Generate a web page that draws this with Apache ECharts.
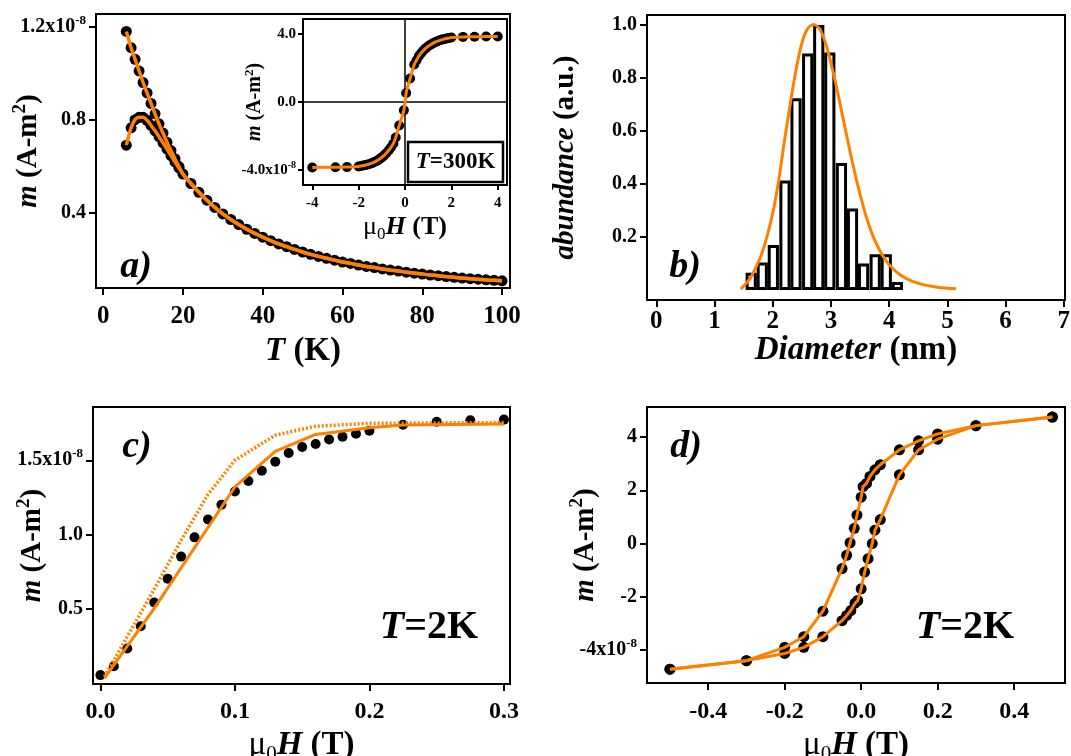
<!DOCTYPE html>
<html><head><meta charset="utf-8">
<script src="https://cdn.jsdelivr.net/npm/echarts@6/dist/echarts.min.js"></script>
<style>html,body{margin:0;padding:0;background:#fff}#chart{width:1071px;height:756px}</style>
</head><body><div id="chart"></div>
<script>
// ---------- Panel a: m(T), ZFC / FC ----------
const aTempLow = [5.8, 7, 8, 9, 10, 11, 12, 13, 14, 15, 16, 17, 18, 19];
const aZfcLow  = [0.69, 0.765, 0.80, 0.81, 0.81, 0.797, 0.775, 0.752, 0.727, 0.70, 0.673, 0.645, 0.618, 0.592];
const aFcLow   = [1.18, 1.11, 1.06, 1.01, 0.96, 0.915, 0.87, 0.825, 0.782, 0.742, 0.703, 0.667, 0.632, 0.598];
const aTempTail = [20,22,24,26,28,30,32,34,36,38,40,42,44,46,48,50,52,54,56,58,60,62,64,66,68,70,72,74,76,78,80,82,84,86,88,90,92,94,96,98,100];
const aTail = [0.566,0.525,0.487,0.453,0.422,0.394,0.370,0.348,0.328,0.310,0.294,0.279,0.265,0.253,0.241,0.230,0.220,0.211,0.203,0.195,0.187,0.181,0.174,0.168,0.163,0.157,0.152,0.148,0.143,0.139,0.135,0.131,0.128,0.124,0.121,0.118,0.115,0.113,0.110,0.108,0.106];
const aXTicks = [0, 20, 40, 60, 80, 100];
const aXLabels = ['0', '20', '40', '60', '80', '100'];
const aYTicks = [0.4, 0.8, 1.2];
const aYLabels = ['0.4', '0.8', '1.2x10^-8'];

// ---------- Inset: m(H) at 300 K ----------
const insH = [-4, -3, -2.5, -2.0, -1.9, -1.8, -1.7, -1.6, -1.5, -1.4, -1.3, -1.2, -1.1, -1.0, -0.9, -0.8, -0.7, -0.6, -0.5, -0.4, -0.25, -0.05, 0.05, 0.22, 0.4, 0.5, 0.6, 0.7, 0.8, 0.9, 1.0, 1.1, 1.2, 1.3, 1.4, 1.5, 1.6, 1.7, 1.8, 1.9, 2.0, 2.5, 3, 3.5, 4];
const insM = [-3.84, -3.83, -3.82, -3.78, -3.76, -3.73, -3.70, -3.66, -3.62, -3.57, -3.51, -3.44, -3.35, -3.25, -3.13, -2.99, -2.83, -2.65, -2.43, -2.08, -1.38, -0.49, 0.53, 1.38, 2.2, 2.45, 2.7, 2.88, 3.03, 3.16, 3.27, 3.36, 3.44, 3.51, 3.57, 3.62, 3.66, 3.70, 3.73, 3.76, 3.78, 3.82, 3.83, 3.84, 3.84];
const insXTicks = [-4, -2, 0, 2, 4];
const insXLabels = ['-4', '-2', '0', '2', '4'];
const insYTicks = [-4, 0, 4];
const insYLabels = ['-4.0x10^-8', '0.0', '4.0'];

// ---------- Panel b: size histogram ----------
const bBinCenter = [1.63, 1.82, 2.01, 2.21, 2.40, 2.60, 2.79, 2.98, 3.18, 3.37, 3.56, 3.76, 3.95, 4.14];
const bAbundance = [0.065, 0.103, 0.169, 0.412, 0.722, 0.891, 0.998, 0.895, 0.478, 0.307, 0.10, 0.134, 0.134, 0.03];
const bFitD = [1.45, 1.6, 1.7, 1.8, 1.9, 2.0, 2.1, 2.2, 2.3, 2.4, 2.5, 2.6, 2.7, 2.8, 2.9, 3.0, 3.1, 3.2, 3.3, 3.4, 3.5, 3.6, 3.7, 3.8, 3.9, 4.0, 4.2, 4.4, 4.6, 4.8, 5.0, 5.15];
const bFitA = [0.003, 0.04, 0.08, 0.13, 0.20, 0.29, 0.41, 0.56, 0.70, 0.83, 0.93, 0.985, 1.0, 0.985, 0.935, 0.855, 0.76, 0.655, 0.55, 0.45, 0.36, 0.28, 0.215, 0.165, 0.125, 0.095, 0.055, 0.032, 0.019, 0.011, 0.006, 0.004];
const bXTicks = [0, 1, 2, 3, 4, 5, 6, 7];
const bXLabels = ['0', '1', '2', '3', '4', '5', '6', '7'];
const bYTicks = [0.2, 0.4, 0.6, 0.8, 1.0];
const bYLabels = ['0.2', '0.4', '0.6', '0.8', '1.0'];

// ---------- Panel c: virgin curve at 2 K ----------
const cField = [0, 0.01, 0.02, 0.03, 0.04, 0.05, 0.06, 0.07, 0.08, 0.09, 0.10, 0.11, 0.12, 0.13, 0.14, 0.15, 0.16, 0.17, 0.18, 0.19, 0.20, 0.225, 0.25, 0.275, 0.30];
const cMoment = [0.05, 0.11, 0.23, 0.38, 0.54, 0.70, 0.85, 0.98, 1.10, 1.20, 1.29, 1.36, 1.43, 1.49, 1.55, 1.59, 1.61, 1.64, 1.66, 1.68, 1.70, 1.74, 1.76, 1.77, 1.775];
const cFitH = [0.003, 0.04, 0.10, 0.13, 0.16, 0.20, 0.225, 0.30];
const cFitM = [0.03, 0.50, 1.32, 1.56, 1.675, 1.72, 1.738, 1.745];
const cModelH = [0.003, 0.02, 0.04, 0.06, 0.08, 0.10, 0.13, 0.16, 0.20, 0.30];
const cModelM = [0.04, 0.31, 0.63, 0.96, 1.27, 1.50, 1.67, 1.73, 1.75, 1.755];
const cXTicks = [0, 0.1, 0.2, 0.3];
const cXLabels = ['0.0', '0.1', '0.2', '0.3'];
const cYTicks = [0.5, 1.0, 1.5];
const cYLabels = ['0.5', '1.0', '1.5x10^-8'];

// ---------- Panel d: hysteresis loop at 2 K ----------
const dDescH = [0.5, 0.3, 0.2, 0.15, 0.1, 0.05, 0.036, 0.023, 0.014, 0.005, 0, -0.011, -0.018, -0.029, -0.038, -0.05, -0.1, -0.15, -0.2, -0.3, -0.5];
const dDescM = [4.75, 4.43, 4.12, 3.86, 3.52, 2.96, 2.77, 2.52, 2.26, 2.14, 1.74, 1.07, 0.57, 0.03, -0.44, -0.94, -2.54, -3.5, -3.9, -4.4, -4.72];
const dAscH = [-0.5, -0.3, -0.2, -0.15, -0.1, -0.05, -0.038, -0.027, -0.016, -0.009, 0, 0.009, 0.018, 0.029, 0.036, 0.05, 0.1, 0.15, 0.2, 0.3, 0.5];
const dAscM = [-4.72, -4.4, -4.13, -3.9, -3.5, -2.9, -2.7, -2.52, -2.24, -2.14, -1.7, -1.07, -0.57, 0.0, 0.5, 0.9, 2.58, 3.52, 3.92, 4.43, 4.75];
const dXTicks = [-0.4, -0.2, 0, 0.2, 0.4];
const dXLabels = ['-0.4', '-0.2', '0.0', '0.2', '0.4'];
const dYTicks = [-4, -2, 0, 2, 4];
const dYLabels = ['-4x10^-8', '-2', '0', '2', '4'];

// ---------- rendering ----------
const SERIF = '"Liberation Serif", "Times New Roman", serif';
const ORANGE = '#ff8000';
const pairs = (xs, ys) => xs.map((x, i) => [x, ys[i]]);

function rich(fs, lhf) {
  const lh = Math.round(fs * (lhf || 1.3));
  const sfs = Math.round(fs * 0.65);
  return {
    n: {fontFamily: SERIF, fontWeight: 'bold', fontSize: fs, color: '#000', lineHeight: lh},
    i: {fontFamily: SERIF, fontWeight: 'bold', fontStyle: 'italic', fontSize: fs, color: '#000', lineHeight: lh},
    u: {fontFamily: SERIF, fontWeight: 'normal', fontSize: fs, color: '#000', lineHeight: lh},
    s: {fontFamily: SERIF, fontWeight: 'bold', fontSize: sfs, color: '#000', verticalAlign: 'top'},
    b: {fontFamily: SERIF, fontWeight: 'normal', fontSize: sfs, color: '#000', verticalAlign: 'bottom'}
  };
}
function fmtLabel(v, ticks, labels) {
  let k = ticks.findIndex(t => Math.abs(t - v) < 1e-9);
  const s = k < 0 ? String(v) : labels[k];
  const p = s.indexOf('^');
  if (p < 0) return '{n|' + s + '}';
  return '{n|' + s.slice(0, p) + '}{s|' + s.slice(p + 1) + '}';
}
function mkAxis(o) {
  return {
    type: 'value', gridIndex: o.grid, min: o.min, max: o.max,
    axisLine: {show: true, onZero: false, lineStyle: {color: '#000', width: 2}},
    axisTick: {show: true, inside: false, length: o.tick || 7, customValues: o.ticks, lineStyle: {color: '#000', width: 2}},
    axisLabel: {show: true, customValues: o.ticks, margin: o.margin, hideOverlap: false, formatter: v => fmtLabel(v, o.ticks, o.labels), rich: rich(o.fs)},
    splitLine: {show: false}, splitArea: {show: false},
    name: o.name, nameLocation: 'middle', nameGap: o.gap, nameRotate: o.rot || 0, nameMoveOverlap: false,
    nameTextStyle: {rich: rich(o.nfs, 1.2), padding: o.pad || 0}
  };
}
const gridStyle = {show: true, borderColor: '#000', borderWidth: 2, backgroundColor: 'transparent', containLabel: false, outerBoundsMode: 'none'};
const MU = '{u|μ}{b|0}{i|H}{n| (T)}';
const MAM = '{i|m}{n| (A-m}{s|2}{n|)}';
const dot = {color: '#000', opacity: 1};

const option = {
  animation: false,
  backgroundColor: '#fff',
  textStyle: {fontFamily: SERIF},
  grid: [
    Object.assign({left: 96, top: 14, width: 414, height: 274}, gridStyle),
    Object.assign({left: 303, top: 19, width: 204, height: 166}, gridStyle, {backgroundColor: '#fff'}),
    Object.assign({left: 647, top: 15, width: 418, height: 285}, gridStyle),
    Object.assign({left: 93, top: 407, width: 417, height: 277}, gridStyle),
    Object.assign({left: 647, top: 407, width: 418, height: 276}, gridStyle)
  ],
  xAxis: [
    mkAxis({grid: 0, min: -1.8, max: 102, ticks: aXTicks, labels: aXLabels, fs: 25, margin: 12, name: '{i|T}{n| (K)}', gap: 43, nfs: 33}),
    mkAxis({grid: 1, min: -4.4, max: 4.4, ticks: insXTicks, labels: insXLabels, fs: 15, margin: 8, tick: 5, name: MU, gap: 27, nfs: 26}),
    mkAxis({grid: 2, min: -0.16, max: 7.02, ticks: bXTicks, labels: bXLabels, fs: 25, margin: 5, name: '{i|Diameter}{n| (nm)}', gap: 30, nfs: 33}),
    mkAxis({grid: 3, min: -0.0055, max: 0.3045, ticks: cXTicks, labels: cXLabels, fs: 24, margin: 12, name: MU, gap: 41, nfs: 33}),
    mkAxis({grid: 4, min: -0.56, max: 0.533, ticks: dXTicks, labels: dXLabels, fs: 24, margin: 13, name: MU, gap: 42, nfs: 33})
  ],
  yAxis: [
    mkAxis({grid: 0, min: 0.075, max: 1.255, ticks: aYTicks, labels: aYLabels, fs: 20, margin: 10, name: MAM, gap: 50, nfs: 29, rot: 90}),
    mkAxis({grid: 1, min: -4.87, max: 4.87, ticks: insYTicks, labels: insYLabels, fs: 15, margin: 7, tick: 5, name: MAM, gap: 36, nfs: 20, rot: 90}),
    mkAxis({grid: 2, min: -0.038, max: 1.036, ticks: bYTicks, labels: bYLabels, fs: 20, margin: 10, name: '{i|abundance}{n| (a.u.)}', gap: 64, nfs: 29, rot: 90}),
    mkAxis({grid: 3, min: -0.01, max: 1.86, ticks: cYTicks, labels: cYLabels, fs: 20, margin: 10, name: MAM, gap: 43, nfs: 29, rot: 90}),
    mkAxis({grid: 4, min: -5.24, max: 5.13, ticks: dYTicks, labels: dYLabels, fs: 20, margin: 10, name: MAM, gap: 44, nfs: 29, rot: 90})
  ],
  series: [
    // panel a
    {type: 'scatter', xAxisIndex: 0, yAxisIndex: 0, data: pairs(aTempLow, aZfcLow).concat(pairs(aTempTail, aTail)), symbolSize: 11, itemStyle: dot},
    {type: 'scatter', xAxisIndex: 0, yAxisIndex: 0, data: pairs(aTempLow, aFcLow), symbolSize: 11, itemStyle: dot},
    {type: 'line', xAxisIndex: 0, yAxisIndex: 0, data: pairs(aTempLow, aZfcLow).concat(pairs(aTempTail, aTail)), smooth: 0.3, showSymbol: false, lineStyle: {color: ORANGE, width: 3.5}},
    {type: 'line', xAxisIndex: 0, yAxisIndex: 0, data: pairs(aTempLow, aFcLow).concat(pairs(aTempTail, aTail)), smooth: 0.3, showSymbol: false, lineStyle: {color: ORANGE, width: 3.5}},
    // inset
    {type: 'scatter', xAxisIndex: 1, yAxisIndex: 1, data: pairs(insH, insM), symbolSize: 10, itemStyle: dot, z: 3,
     markLine: {silent: true, symbol: 'none', label: {show: false}, lineStyle: {color: '#000', width: 1.5, type: 'solid', opacity: 1}, data: [{xAxis: 0}, {yAxis: 0}], z: 1}},
    {type: 'line', xAxisIndex: 1, yAxisIndex: 1, data: pairs(insH, insM), smooth: 0.3, showSymbol: false, lineStyle: {color: ORANGE, width: 3}, z: 4},
    // panel b
    {type: 'bar', xAxisIndex: 2, yAxisIndex: 2, data: pairs(bBinCenter, bAbundance), barWidth: 11.2, itemStyle: {color: '#fff', borderColor: '#000', borderWidth: 3}},
    {type: 'line', xAxisIndex: 2, yAxisIndex: 2, data: pairs(bFitD, bFitA), smooth: 0.3, showSymbol: false, lineStyle: {color: ORANGE, width: 3}, z: 5},
    // panel c
    {type: 'scatter', xAxisIndex: 3, yAxisIndex: 3, data: pairs(cField, cMoment), symbolSize: 10, itemStyle: dot},
    {type: 'line', xAxisIndex: 3, yAxisIndex: 3, data: pairs(cFitH, cFitM), showSymbol: false, lineStyle: {color: ORANGE, width: 3}},
    {type: 'line', xAxisIndex: 3, yAxisIndex: 3, data: pairs(cModelH, cModelM), showSymbol: false, lineStyle: {color: ORANGE, width: 3.5, type: [2, 2]}},
    // panel d
    {type: 'scatter', xAxisIndex: 4, yAxisIndex: 4, data: pairs(dDescH, dDescM), symbolSize: 11, itemStyle: dot},
    {type: 'scatter', xAxisIndex: 4, yAxisIndex: 4, data: pairs(dAscH, dAscM), symbolSize: 11, itemStyle: dot},
    {type: 'line', xAxisIndex: 4, yAxisIndex: 4, data: pairs(dDescH, dDescM), showSymbol: false, lineStyle: {color: ORANGE, width: 3}},
    {type: 'line', xAxisIndex: 4, yAxisIndex: 4, data: pairs(dAscH, dAscM), showSymbol: false, lineStyle: {color: ORANGE, width: 3}}
  ],
  graphic: [
    {type: 'text', x: 136, y: 267, style: {text: 'a)', font: 'italic bold 38px ' + SERIF, fill: '#000', align: 'center', verticalAlign: 'middle'}},
    {type: 'text', x: 685, y: 267, style: {text: 'b)', font: 'italic bold 38px ' + SERIF, fill: '#000', align: 'center', verticalAlign: 'middle'}},
    {type: 'text', x: 137, y: 447, style: {text: 'c)', font: 'italic bold 38px ' + SERIF, fill: '#000', align: 'center', verticalAlign: 'middle'}},
    {type: 'text', x: 686, y: 447, style: {text: 'd)', font: 'italic bold 38px ' + SERIF, fill: '#000', align: 'center', verticalAlign: 'middle'}},
    {type: 'text', x: 429, y: 628, style: {text: '{i|T}{n|=2K}', align: 'center', verticalAlign: 'middle',
      rich: {i: {fontFamily: SERIF, fontWeight: 'bold', fontStyle: 'italic', fontSize: 40, fill: '#000'}, n: {fontFamily: SERIF, fontWeight: 'bold', fontSize: 40, fill: '#000'}}}},
    {type: 'text', x: 965, y: 628, style: {text: '{i|T}{n|=2K}', align: 'center', verticalAlign: 'middle',
      rich: {i: {fontFamily: SERIF, fontWeight: 'bold', fontStyle: 'italic', fontSize: 40, fill: '#000'}, n: {fontFamily: SERIF, fontWeight: 'bold', fontSize: 40, fill: '#000'}}}},
    {type: 'rect', shape: {x: 408, y: 142, width: 95, height: 40}, style: {fill: '#fff', stroke: '#000', lineWidth: 2.5}, z: 10},
    {type: 'text', x: 455.5, y: 162, z: 11, style: {text: '{i|T}{n|=300K}', align: 'center', verticalAlign: 'middle',
      rich: {i: {fontFamily: SERIF, fontWeight: 'bold', fontStyle: 'italic', fontSize: 23, fill: '#000'}, n: {fontFamily: SERIF, fontWeight: 'bold', fontSize: 23, fill: '#000'}}}}
  ]
};
const chart = echarts.init(document.getElementById('chart'), null, {renderer: 'canvas'});
chart.setOption(option);
</script></body></html>
